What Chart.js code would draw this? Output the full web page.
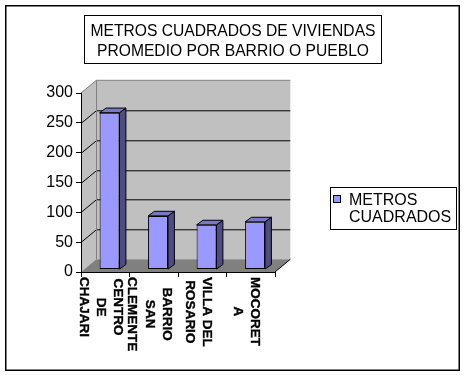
<!DOCTYPE html>
<html><head><meta charset="utf-8">
<script src="https://cdn.jsdelivr.net/npm/chart.js@4"></script>
<style>html,body{margin:0;padding:0;background:#fff;}</style>
</head><body>
<canvas id="c" width="466" height="375" style="display:block;width:466px;height:375px"></canvas>
<script>
// ---- data ----
const categories = [["CENTRO","DE","CHAJARI"],["BARRIO","SAN","CLEMENTE"],["VILLA DEL","ROSARIO"],["MOCORET","A"]];
const seriesName = "METROS CUADRADOS";
const legendLines = ["METROS","CUADRADOS"];
const values = [263, 90, 75, 80];
const yTicks = [0, 50, 100, 150, 200, 250, 300];
const titleLines = ["METROS CUADRADOS DE VIVIENDAS","PROMEDIO POR BARRIO O PUEBLO"];

// ---- style ----
const FONT = "'Liberation Sans', Arial, sans-serif";
const D = {x: 15.3, y: -12.7};      // full depth of the 3D box
const FRONT = {x: 4.3, y: -2.4};    // bar front face offset
const DEPTH = {x: 6.4, y: -4.6};    // bar depth

function poly(ctx, pts, fill, stroke) {
  ctx.beginPath();
  ctx.moveTo(pts[0][0], pts[0][1]);
  for (let i = 1; i < pts.length; i++) ctx.lineTo(pts[i][0], pts[i][1]);
  ctx.closePath();
  if (fill) { ctx.fillStyle = fill; ctx.fill(); }
  if (stroke) { ctx.strokeStyle = stroke; ctx.lineWidth = 1; ctx.stroke(); }
}
function line(ctx, x1, y1, x2, y2, color) {
  ctx.beginPath(); ctx.moveTo(x1, y1); ctx.lineTo(x2, y2);
  ctx.strokeStyle = color; ctx.lineWidth = 1; ctx.stroke();
}
function text(ctx, s, x, y, size, sx, align, weight) {
  ctx.save();
  ctx.translate(x, y);
  ctx.scale(sx, 1);
  ctx.font = (weight || 'normal') + ' ' + size + 'px ' + FONT;
  ctx.textAlign = align; ctx.textBaseline = 'alphabetic';
  ctx.fillStyle = '#000';
  ctx.fillText(s, 0, 0);
  ctx.restore();
}

const plugin3d = {
  id: 'p3d',
  beforeDraw(chart) {
    const {ctx, chartArea: a, scales: {y}} = chart;
    ctx.save();
    ctx.fillStyle = '#fff'; ctx.fillRect(0, 0, chart.width, chart.height);
    const L = a.left, R = a.right, T = a.top, B = a.bottom;
    // back wall
    poly(ctx, [[L + D.x, T + D.y], [R + D.x, T + D.y], [R + D.x, B + D.y], [L + D.x, B + D.y]], '#C0C0C0', null);
    // left wall
    poly(ctx, [[L, T], [L + D.x, T + D.y], [L + D.x, B + D.y], [L, B]], '#C0C0C0', null);
    // floor
    poly(ctx, [[L, B], [L + D.x, B + D.y], [R + D.x, B + D.y], [R, B]], '#808080', null);
    // gridlines
    yTicks.forEach(v => {
      if (v === 0 || v === 300) return;
      const py = Math.round(y.getPixelForValue(v)) + 0.5;
      line(ctx, L + D.x, py + D.y, R + D.x, py + D.y, '#000');
      line(ctx, L, py, L + D.x, py + D.y, '#000');
    });
    // wall edges
    const tp = y.getPixelForValue(300);
    line(ctx, L, tp, L + D.x, tp + D.y, '#808080');
    line(ctx, L + D.x, tp + D.y, R + D.x, tp + D.y, '#808080');
    line(ctx, Math.round(L + D.x) + 0.5, T + D.y, Math.round(L + D.x) + 0.5, B + D.y, '#808080');
    // floor right edge
    line(ctx, R, B, R + D.x, B + D.y, '#000');
    ctx.restore();
  },
  beforeDatasetsDraw(chart) {
    chart.ctx.save();
    chart.ctx.translate(FRONT.x, FRONT.y);
  },
  afterDatasetsDraw(chart) {
    const ctx = chart.ctx;
    const meta = chart.getDatasetMeta(0);
    meta.data.forEach(bar => {
      const {x, y, base, width} = bar.getProps(['x', 'y', 'base', 'width'], true);
      const l = x - width / 2, r = x + width / 2;
      poly(ctx, [[r, y], [r + DEPTH.x, y + DEPTH.y], [r + DEPTH.x, base + DEPTH.y], [r, base]], '#4D4D80', '#000');
      poly(ctx, [[l, y], [l + DEPTH.x, y + DEPTH.y], [r + DEPTH.x, y + DEPTH.y], [r, y]], '#7878C4', '#000');
    });
    ctx.restore();
  },
  afterDraw(chart) {
    const {ctx, scales: {x}} = chart;
    ctx.save();
    // outer border
    ctx.strokeStyle = '#000'; ctx.lineWidth = 1.5;
    ctx.strokeRect(5.75, 5.75, 453.5, 364.5);
    // title box
    ctx.lineWidth = 1;
    ctx.fillStyle = '#fff';
    ctx.fillRect(84.5, 15.5, 297, 48);
    ctx.strokeRect(84.5, 15.5, 297, 48);
    text(ctx, titleLines[0], 233, 36, 17, 0.92, 'center');
    text(ctx, titleLines[1], 233, 56, 17, 0.92, 'center');
    // legend
    ctx.strokeRect(330.5, 187.5, 126, 42);
    ctx.fillStyle = chart.data.datasets[0].backgroundColor;
    ctx.fillRect(333.5, 195.5, 7, 7);
    ctx.strokeRect(333.5, 195.5, 7, 7);
    text(ctx, legendLines[0], 349, 205, 16, 1.0, 'left');
    text(ctx, legendLines[1], 349, 222, 16, 1.0, 'left');
    // category labels (rotated clockwise)
    const sp = 17.2;
    const lf = 'bold 13.5px ' + FONT;
    ctx.font = lf;
    categories.forEach((lines, i) => {
      const cx = x.getPixelForValue(i) - 3.3;
      const n = lines.length;
      const maxW = Math.max(...lines.map(s => ctx.measureText(s).width));
      lines.forEach((s, j) => {
        const colX = cx + ((n - 1) / 2 - j) * sp;
        ctx.save();
        ctx.translate(colX - 4.8, 277 + maxW / 2);
        ctx.rotate(Math.PI / 2);
        ctx.font = lf;
        ctx.textAlign = 'center'; ctx.textBaseline = 'alphabetic';
        ctx.fillStyle = '#000';
        ctx.strokeStyle = '#000';
        ctx.lineWidth = 0.35;
        ctx.fillText(s, 0, 0);
        ctx.strokeText(s, 0, 0);
        ctx.restore();
      });
    });
    ctx.restore();
  }
};

new Chart(document.getElementById('c'), {
  type: 'bar',
  data: {
    labels: categories,
    datasets: [{
      label: seriesName,
      data: values,
      backgroundColor: '#9999FF',
      borderColor: '#000',
      borderWidth: 1,
      borderSkipped: false,
      barPercentage: 0.41,
      categoryPercentage: 1,
      clip: false
    }]
  },
  options: {
    responsive: false,
    devicePixelRatio: 1,
    animation: false,
    events: [],
    layout: {padding: {left: 0, right: 191, top: 93, bottom: 93}},
    plugins: {legend: {display: false}, title: {display: false}, tooltip: {enabled: false}},
    scales: {
      x: {
        offset: true,
        grid: {offset: true, drawOnChartArea: false, drawTicks: true, tickLength: 5, color: '#000'},
        border: {display: true, color: '#000'},
        ticks: {display: false},
        afterFit(s) { s.height = 10; }
      },
      y: {
        min: 0, max: 300,
        afterBuildTicks(s) { s.ticks = yTicks.map(v => ({value: v})); },
        ticks: {font: {family: FONT, size: 16}, color: '#000', padding: 3},
        grid: {drawOnChartArea: false, drawTicks: true, tickLength: 5, color: '#000'},
        border: {display: true, color: '#000'},
        afterFit(s) { s.width = 81; }
      }
    }
  },
  plugins: [plugin3d]
});
</script>
</body></html>
